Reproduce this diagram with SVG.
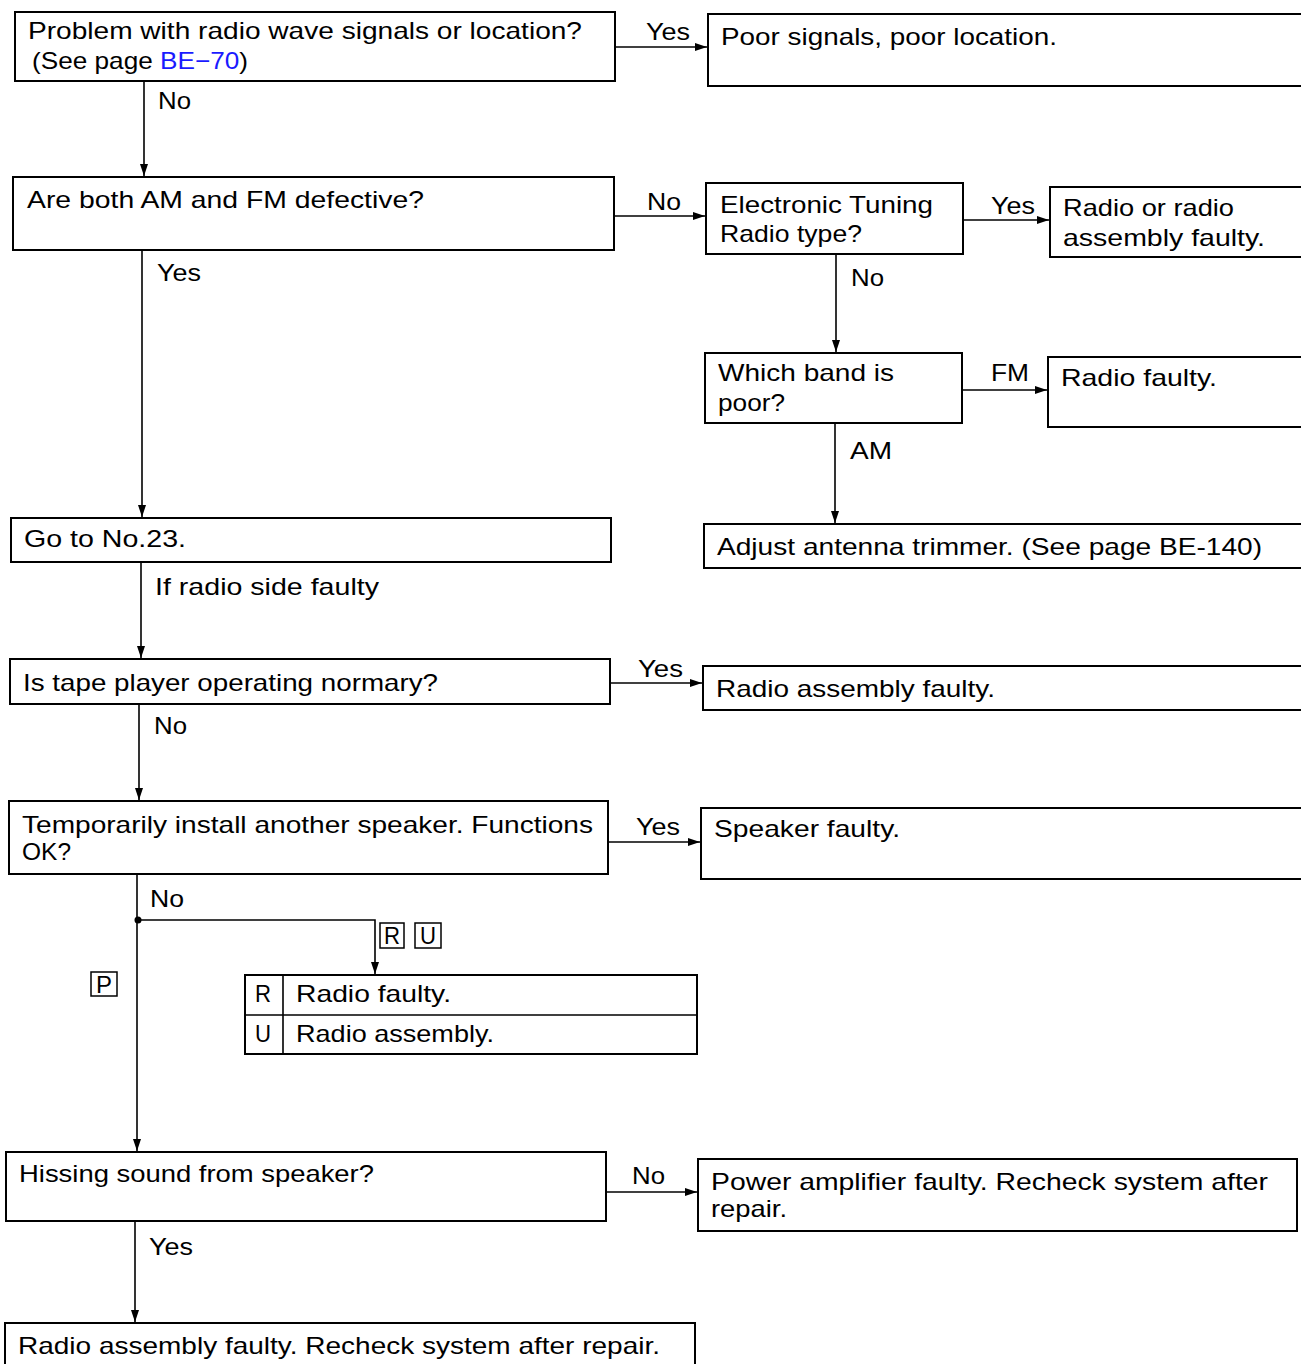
<svg xmlns="http://www.w3.org/2000/svg" width="1301" height="1364" viewBox="0 0 1301 1364">
<style>
.box{fill:#fff;stroke:#000;stroke-width:2}
.t{font-family:"Liberation Sans",Arial,sans-serif;font-size:24px;fill:#000}
.c{fill:none;stroke:#000;stroke-width:1.6}
.tag{fill:none;stroke:#000;stroke-width:1.5}
</style>
<defs>
<marker id="ah" markerUnits="userSpaceOnUse" markerWidth="14" markerHeight="10" refX="12" refY="4" orient="auto">
<path d="M0,0 L12,4 L0,8 Z" fill="#000"/>
</marker>
</defs>
<rect width="1301" height="1364" fill="#fff"/>

<g id="connectors">
<path class="c" d="M615,47 H707" marker-end="url(#ah)"/>
<path class="c" d="M144,81 V176" marker-end="url(#ah)"/>
<path class="c" d="M614,216 H705" marker-end="url(#ah)"/>
<path class="c" d="M963,220 H1049" marker-end="url(#ah)"/>
<path class="c" d="M836,254 V352" marker-end="url(#ah)"/>
<path class="c" d="M962,390 H1047" marker-end="url(#ah)"/>
<path class="c" d="M835,423 V523" marker-end="url(#ah)"/>
<path class="c" d="M142,250 V517" marker-end="url(#ah)"/>
<path class="c" d="M141,562 V658" marker-end="url(#ah)"/>
<path class="c" d="M610,683 H702" marker-end="url(#ah)"/>
<path class="c" d="M139,704 V800" marker-end="url(#ah)"/>
<path class="c" d="M608,842 H700" marker-end="url(#ah)"/>
<path class="c" d="M137,874 V1151" marker-end="url(#ah)"/>
<path class="c" d="M138,920 H375 V974" marker-end="url(#ah)"/>
<circle cx="138" cy="920" r="3.5" fill="#000"/>
<path class="c" d="M606,1192 H697" marker-end="url(#ah)"/>
<path class="c" d="M135,1221 V1322" marker-end="url(#ah)"/>
<text class="t" x="646" y="40" textLength="44" lengthAdjust="spacingAndGlyphs">Yes</text>
<text class="t" x="158" y="109" textLength="33" lengthAdjust="spacingAndGlyphs">No</text>
<text class="t" x="647" y="210" textLength="34" lengthAdjust="spacingAndGlyphs">No</text>
<text class="t" x="991" y="214" textLength="44" lengthAdjust="spacingAndGlyphs">Yes</text>
<text class="t" x="851" y="286" textLength="33" lengthAdjust="spacingAndGlyphs">No</text>
<text class="t" x="157" y="281" textLength="44" lengthAdjust="spacingAndGlyphs">Yes</text>
<text class="t" x="991" y="381" textLength="38" lengthAdjust="spacingAndGlyphs">FM</text>
<text class="t" x="850" y="459" textLength="42" lengthAdjust="spacingAndGlyphs">AM</text>
<text class="t" x="155" y="595" textLength="224" lengthAdjust="spacingAndGlyphs">If radio side faulty</text>
<text class="t" x="638" y="677" textLength="45" lengthAdjust="spacingAndGlyphs">Yes</text>
<text class="t" x="154" y="734" textLength="33" lengthAdjust="spacingAndGlyphs">No</text>
<text class="t" x="636" y="835" textLength="44" lengthAdjust="spacingAndGlyphs">Yes</text>
<text class="t" x="150" y="907" textLength="34" lengthAdjust="spacingAndGlyphs">No</text>
<rect class="tag" x="380" y="923" width="24" height="25"/>
<text class="t" x="384" y="944" textLength="16" lengthAdjust="spacingAndGlyphs">R</text>
<rect class="tag" x="415" y="923" width="26" height="25"/>
<text class="t" x="420" y="944" textLength="16" lengthAdjust="spacingAndGlyphs">U</text>
<rect class="tag" x="91" y="972" width="26" height="24"/>
<text class="t" x="96" y="993" textLength="16" lengthAdjust="spacingAndGlyphs">P</text>
<text class="t" x="632" y="1184" textLength="33" lengthAdjust="spacingAndGlyphs">No</text>
<text class="t" x="149" y="1255" textLength="44" lengthAdjust="spacingAndGlyphs">Yes</text>
</g>

<g id="n1">
<rect class="box" x="15" y="12" width="600" height="69"/>
<text class="t" x="28" y="39" textLength="554" lengthAdjust="spacingAndGlyphs">Problem with radio wave signals or location?</text>
<text class="t" x="32" y="69" textLength="216" lengthAdjust="spacingAndGlyphs">(See page <tspan fill="#1a1aff">BE−70</tspan>)</text>
</g>
<g id="n2">
<rect class="box" x="708" y="14" width="610" height="72"/>
<text class="t" x="721" y="45" textLength="336" lengthAdjust="spacingAndGlyphs">Poor signals, poor location.</text>
</g>
<g id="n3">
<rect class="box" x="13" y="177" width="601" height="73"/>
<text class="t" x="27" y="208" textLength="397" lengthAdjust="spacingAndGlyphs">Are both AM and FM defective?</text>
</g>
<g id="n4">
<rect class="box" x="706" y="183" width="257" height="71"/>
<text class="t" x="720" y="213" textLength="213" lengthAdjust="spacingAndGlyphs">Electronic Tuning</text>
<text class="t" x="720" y="242" textLength="142" lengthAdjust="spacingAndGlyphs">Radio type?</text>
</g>
<g id="n5">
<rect class="box" x="1050" y="187" width="270" height="70"/>
<text class="t" x="1063" y="216" textLength="171" lengthAdjust="spacingAndGlyphs">Radio or radio</text>
<text class="t" x="1063" y="246" textLength="202" lengthAdjust="spacingAndGlyphs">assembly faulty.</text>
</g>
<g id="n6">
<rect class="box" x="705" y="353" width="257" height="70"/>
<text class="t" x="718" y="381" textLength="176" lengthAdjust="spacingAndGlyphs">Which band is</text>
<text class="t" x="718" y="411" textLength="67" lengthAdjust="spacingAndGlyphs">poor?</text>
</g>
<g id="n7">
<rect class="box" x="1048" y="357" width="270" height="70"/>
<text class="t" x="1061" y="386" textLength="156" lengthAdjust="spacingAndGlyphs">Radio faulty.</text>
</g>
<g id="n8">
<rect class="box" x="704" y="524" width="614" height="44"/>
<text class="t" x="717" y="555" textLength="545" lengthAdjust="spacingAndGlyphs">Adjust antenna trimmer. (See page BE-140)</text>
</g>
<g id="n9">
<rect class="box" x="11" y="518" width="600" height="44"/>
<text class="t" x="24" y="547" textLength="162" lengthAdjust="spacingAndGlyphs">Go to No.23.</text>
</g>
<g id="n10">
<rect class="box" x="10" y="659" width="600" height="45"/>
<text class="t" x="23" y="691" textLength="415" lengthAdjust="spacingAndGlyphs">Is tape player operating normary?</text>
</g>
<g id="n11">
<rect class="box" x="703" y="666" width="615" height="44"/>
<text class="t" x="716" y="697" textLength="279" lengthAdjust="spacingAndGlyphs">Radio assembly faulty.</text>
</g>
<g id="n12">
<rect class="box" x="9" y="801" width="599" height="73"/>
<text class="t" x="22" y="833" textLength="571" lengthAdjust="spacingAndGlyphs">Temporarily install another speaker. Functions</text>
<text class="t" x="22" y="860" textLength="49" lengthAdjust="spacingAndGlyphs">OK?</text>
</g>
<g id="n13">
<rect class="box" x="701" y="808" width="617" height="71"/>
<text class="t" x="714" y="837" textLength="186" lengthAdjust="spacingAndGlyphs">Speaker faulty.</text>
</g>
<g id="n14">
<rect class="box" x="245" y="975" width="452" height="79"/>
<path class="c" d="M245,1015 H697 M283,975 V1054"/>
<text class="t" x="255" y="1002" textLength="16" lengthAdjust="spacingAndGlyphs">R</text>
<text class="t" x="296" y="1002" textLength="155" lengthAdjust="spacingAndGlyphs">Radio faulty.</text>
<text class="t" x="255" y="1042" textLength="16" lengthAdjust="spacingAndGlyphs">U</text>
<text class="t" x="296" y="1042" textLength="198" lengthAdjust="spacingAndGlyphs">Radio assembly.</text>
</g>
<g id="n15">
<rect class="box" x="6" y="1152" width="600" height="69"/>
<text class="t" x="19" y="1182" textLength="355" lengthAdjust="spacingAndGlyphs">Hissing sound from speaker?</text>
</g>
<g id="n16">
<rect class="box" x="698" y="1159" width="599" height="72"/>
<text class="t" x="711" y="1190" textLength="557" lengthAdjust="spacingAndGlyphs">Power amplifier faulty. Recheck system after</text>
<text class="t" x="711" y="1217" textLength="76" lengthAdjust="spacingAndGlyphs">repair.</text>
</g>
<g id="n17">
<rect class="box" x="5" y="1323" width="690" height="48"/>
<text class="t" x="18" y="1354" textLength="642" lengthAdjust="spacingAndGlyphs">Radio assembly faulty. Recheck system after repair.</text>
</g>
</svg>
